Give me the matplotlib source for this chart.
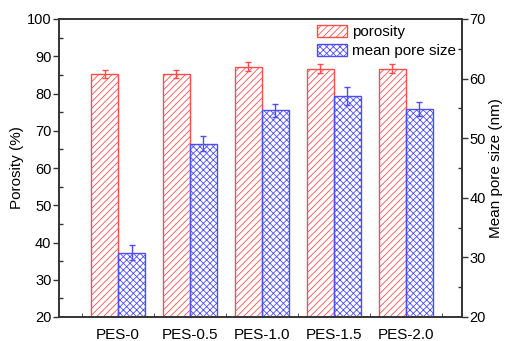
import numpy as np
import matplotlib
matplotlib.use("Agg")
import matplotlib.pyplot as plt
from matplotlib.ticker import MultipleLocator, FixedLocator

plt.rcParams['font.family'] = ['Liberation Sans', 'DejaVu Sans']
plt.rcParams['hatch.linewidth'] = 0.6

samples = ["PES-0", "PES-0.5", "PES-1.0", "PES-1.5", "PES-2.0"]
porosity = [85.2, 85.2, 87.2, 86.7, 86.7]
porosity_err = [1.0, 1.1, 1.25, 1.2, 1.2]
pore_size = [30.8, 49.1, 54.7, 57.1, 54.9]
pore_size_err = [1.2, 1.2, 1.1, 1.5, 1.15]

red = "#ff4d4d"
blue = "#4d4dff"
axis_color = "#333333"

fig = plt.figure(figsize=(5.06, 3.41), dpi=100)
ax = fig.add_axes([59/506, 1 - 317/341, 403/506, 298/341])
ax2 = ax.twinx()

x = np.arange(len(samples))
w = 0.375

b1 = ax.bar(x - w/2, porosity, w, fill=False, edgecolor=red,
            hatch="/////", linewidth=1.0, label="porosity", zorder=2)
ax.errorbar(x - w/2, porosity, yerr=porosity_err, fmt="none", ecolor=red,
            elinewidth=1.0, capsize=2.5, capthick=1.0, zorder=3)

b2 = ax2.bar(x + w/2, pore_size, w, fill=False, edgecolor=blue,
             hatch="xxxxx", linewidth=1.0, label="mean pore size", zorder=2)
ax2.errorbar(x + w/2, pore_size, yerr=pore_size_err, fmt="none", ecolor=blue,
             elinewidth=1.0, capsize=2.5, capthick=1.0, zorder=3)

ax.set_xlim(-0.82, 4.78)
ax.set_ylim(20, 100)
ax2.set_ylim(20, 70)

ax.set_xticks(x)
ax.set_xticklabels(samples, fontsize=11)
ax.xaxis.set_minor_locator(FixedLocator(np.arange(-0.5, 5, 1.0)))
ax.tick_params(axis="x", which="major", direction="in", length=4,
               color=axis_color, pad=8)
ax.tick_params(axis="x", which="minor", direction="in", length=3,
               color=axis_color, top=False)

for a in (ax, ax2):
    a.yaxis.set_major_locator(MultipleLocator(10))
    a.yaxis.set_minor_locator(MultipleLocator(5))
    a.tick_params(axis="y", which="major", direction="out", length=4,
                  width=1.0, color=axis_color, labelsize=10.5, pad=1.5)
    a.tick_params(axis="y", which="minor", direction="in", length=3,
                  width=1.0, color=axis_color)
    for s in a.spines.values():
        s.set_linewidth(1.2)
        s.set_color(axis_color)

ax.set_ylabel("Porosity (%)", fontsize=11, labelpad=2)
ax2.set_ylabel("Mean pore size (nm)", fontsize=11, labelpad=2)

ax2.legend([b1, b2], ["porosity", "mean pore size"], loc="upper right",
           frameon=False, fontsize=11, handlelength=2.0, handleheight=0.8,
           handletextpad=0.3, labelspacing=0.3, borderaxespad=0.1,
           borderpad=0.3)

fig.savefig("out.png", dpi=100)
